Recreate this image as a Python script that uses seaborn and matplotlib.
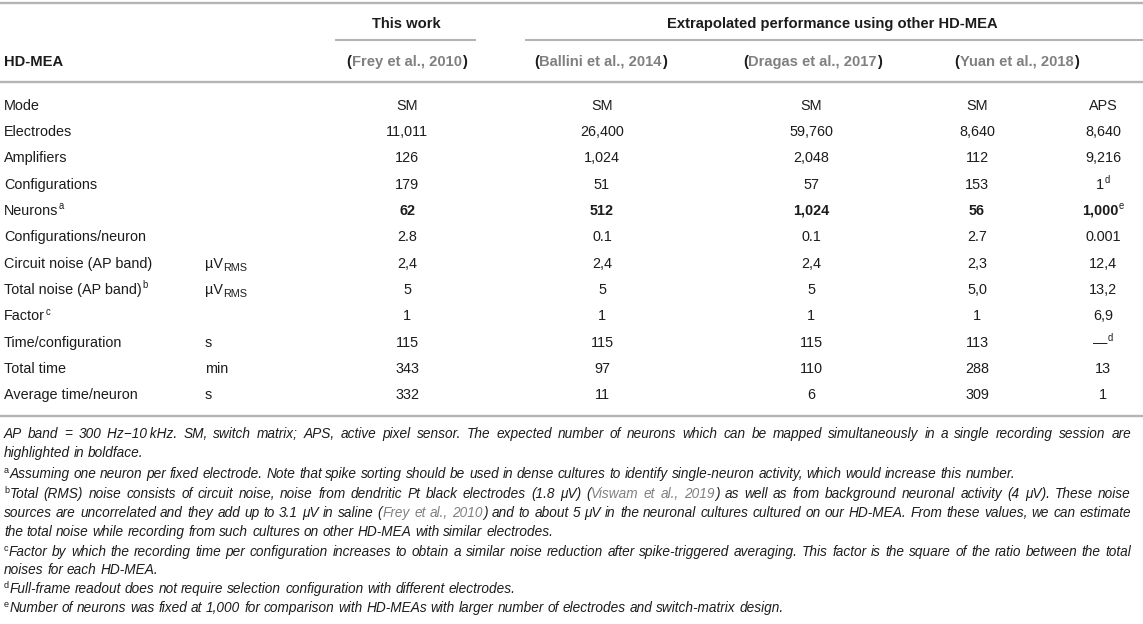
import matplotlib
matplotlib.use('Agg')
import matplotlib.pyplot as plt
import seaborn as sns

# --- table content ---
group_headers = ['This work', 'Extrapolated performance using other HD-MEA']
study_names = ['Frey et al., 2010', 'Ballini et al., 2014', 'Dragas et al., 2017', 'Yuan et al., 2018']

row_labels = ['Mode', 'Electrodes', 'Amplifiers', 'Configurations', 'Neurons',
              'Configurations/neuron', 'Circuit noise (AP band)', 'Total noise (AP band)',
              'Factor', 'Time/configuration', 'Total time', 'Average time/neuron']
row_notes = ['', '', '', '', 'a', '', '', 'b', 'c', '', '', '']
row_units = ['', '', '', '', '', '', '\u00b5V', '\u00b5V', '', 's', 'min', 's']
row_unit_subs = ['', '', '', '', '', '', 'RMS', 'RMS', '', '', '', '']

frey_sm = ['SM', '11,011', '126', '179', '62', '2.8', '2,4', '5', '1', '115', '343', '332']
ballini_sm = ['SM', '26,400', '1,024', '51', '512', '0.1', '2,4', '5', '1', '115', '97', '11']
dragas_sm = ['SM', '59,760', '2,048', '57', '1,024', '0.1', '2,4', '5', '1', '115', '110', '6']
yuan_sm = ['SM', '8,640', '112', '153', '56', '2.7', '2,3', '5,0', '1', '113', '288', '309']
yuan_aps = ['APS', '8,640', '9,216', '1', '1,000', '0.001', '12,4', '13,2', '6,9', '\u2014', '13', '1']
yuan_aps_notes = ['', '', '', 'd', 'e', '', '', '', '', 'd', '', '']
bold_row = 'Neurons'

footnotes = [
    [('AP band = 300 Hz\u221210\u2009kHz. SM, switch matrix; APS, active pixel sensor. The expected number '
      'of neurons which can be mapped simultaneously in a single recording session are', 'n')],
    [('highlighted in boldface.', 'n')],
    [('a', 'sup'), ('Assuming one neuron per fixed electrode. Note that spike sorting should be used in dense '
                    'cultures to identify single-neuron activity, which would increase this number.', 'n')],
    [('b', 'sup'), ('Total (RMS) noise consists of circuit noise, noise from dendritic Pt black electrodes '
                    '(1.8 \u03bcV) (', 'n'), ('Viswam et al., 2019', 'g'),
     (') as well as from background neuronal activity (4 \u03bcV). These noise', 'n')],
    [('sources are uncorrelated and they add up to 3.1 \u03bcV in saline (', 'n'), ('Frey et al., 2010', 'g'),
     (') and to about 5 \u03bcV in the neuronal cultures cultured on our HD-MEA. From these values, we can estimate', 'n')],
    [('the total noise while recording from such cultures on other HD-MEA with similar electrodes.', 'n')],
    [('c', 'sup'), ('Factor by which the recording time per configuration increases to obtain a similar noise '
                    'reduction after spike-triggered averaging. This factor is the square of the ratio between the total', 'n')],
    [('noises for each HD-MEA.', 'n')],
    [('d', 'sup'), ('Full-frame readout does not require selection configuration with different electrodes.', 'n')],
    [('e', 'sup'), ('Number of neurons was fixed at 1,000 for comparison with HD-MEAs with larger number of '
                    'electrodes and switch-matrix design.', 'n')],
]
justified = [True, False, False, True, True, False, True, False, False, False]

# --- styling ---
sns.set_theme(style='white')
plt.rcParams['font.family'] = ['Liberation Sans', 'DejaVu Sans']

ink = '#1c1c1c'
cite = '#808080'
rule = '#b4b4b4'
body_fs = 10.4
head_fs = 10.6
note_fs = 9.8

fig = plt.figure(figsize=(11.43, 6.24), dpi=100)
ax = fig.add_axes([0, 0, 1, 1])
ax.set_xlim(0, 1143)
ax.set_ylim(624, 0)
ax.axis('off')
renderer = fig.canvas.get_renderer()


def measure(s, **kw):
    t = ax.text(0, 0, s, **kw)
    w = t.get_window_extent(renderer).width
    t.remove()
    return w


def draw_runs(x, y, runs, ha='left'):
    # runs: (text, text kwargs, vertical shift in px)
    widths = [measure(s, **kw) for s, kw, dy in runs]
    if ha == 'center':
        x = x - sum(widths) / 2
    for (s, kw, dy), w in zip(runs, widths):
        ax.text(x, y + dy, s, va='baseline', ha='left', **kw)
        x += w + 0.5


def sup(letter, fs, weight='normal'):
    return (letter, dict(fontsize=fs * 0.66, color=ink, fontweight=weight), -fs * 0.55)


# rules
ax.plot([0, 1143], [3, 3], color=rule, lw=1.7, solid_capstyle='butt')
ax.plot([335, 476], [39.5, 39.5], color=rule, lw=1.5, solid_capstyle='butt')
ax.plot([525, 1143], [39.5, 39.5], color=rule, lw=1.5, solid_capstyle='butt')
ax.plot([0, 1143], [82, 82], color=rule, lw=1.7, solid_capstyle='butt')
ax.plot([0, 1143], [416, 416], color=rule, lw=1.7, solid_capstyle='butt')

# headers
hkw = dict(fontsize=head_fs, fontweight='bold', color=ink)
ax.text(406, 28, group_headers[0], ha='center', va='baseline', **hkw)
ax.text(832, 28, group_headers[1], ha='center', va='baseline', **hkw)
ax.text(4, 66, 'HD-MEA', ha='left', va='baseline', **hkw)
study_x = [406, 600, 812, 1016]
for sx, name in zip(study_x, study_names):
    draw_runs(sx, 66, [('(', hkw, 0),
                       (name, dict(fontsize=head_fs, fontweight='bold', color=cite), 0),
                       (')', hkw, 0)], ha='center')

# body rows
col_x = [407, 602, 811, 977, 1103]
columns = [frey_sm, ballini_sm, dragas_sm, yuan_sm, yuan_aps]
col_notes = [None, None, None, None, yuan_aps_notes]
for i, label in enumerate(row_labels):
    y = 109.5 + 26.35 * i
    bkw = dict(fontsize=body_fs, color=ink)
    runs = [(label, bkw, 0)]
    if row_notes[i]:
        runs.append(sup(row_notes[i], body_fs))
    draw_runs(4, y, runs)
    if row_units[i]:
        uruns = [(row_units[i], bkw, 0)]
        if row_unit_subs[i]:
            uruns.append((row_unit_subs[i], dict(fontsize=body_fs * 0.75, color=ink), 3.5))
        draw_runs(205, y, uruns)
    weight = 'bold' if label == bold_row else 'normal'
    vkw = dict(fontsize=body_fs, color=ink, fontweight=weight)
    for cx, vals, notes in zip(col_x, columns, col_notes):
        vruns = [(vals[i], vkw, 0)]
        if notes is not None and notes[i]:
            vruns.append(sup(notes[i], body_fs))
        draw_runs(cx, y, vruns, ha='center')

# footnotes (justified where the source paragraph wraps)
note_y = [438, 457, 478, 498, 517, 536, 556, 574, 593, 612]
right_edge = 1131
space_w = measure('a a', fontsize=note_fs, style='italic') - measure('aa', fontsize=note_fs, style='italic')
for line, y, just in zip(footnotes, note_y, justified):
    words = [[]]
    for text, kind in line:
        parts = text.split(' ')
        for k, p in enumerate(parts):
            if k > 0:
                words.append([])
            if p:
                words[-1].append((p, kind))
    words = [w for w in words if w]
    placed = []
    for w in words:
        pieces = []
        for p, kind in w:
            if kind == 'sup':
                kw = dict(fontsize=note_fs * 0.66, color=ink)
                dy = -note_fs * 0.5
            elif kind == 'g':
                kw = dict(fontsize=note_fs, color=cite, style='italic')
                dy = 0
            else:
                kw = dict(fontsize=note_fs, color=ink, style='italic')
                dy = 0
            pieces.append((p, kw, dy, measure(p, **kw)))
        placed.append(pieces)
    word_w = [sum(pc[3] for pc in pcs) + 0.5 * (len(pcs) - 1) for pcs in placed]
    gap = space_w
    if just and len(placed) > 1:
        gap = (right_edge - 4 - sum(word_w)) / (len(placed) - 1)
    x = 4
    for pcs, ww in zip(placed, word_w):
        xx = x
        for p, kw, dy, pw in pcs:
            ax.text(xx, y + dy, p, va='baseline', ha='left', **kw)
            xx += pw + 0.5
        x += ww + gap

fig.savefig('out.png', dpi=100, facecolor='white')
